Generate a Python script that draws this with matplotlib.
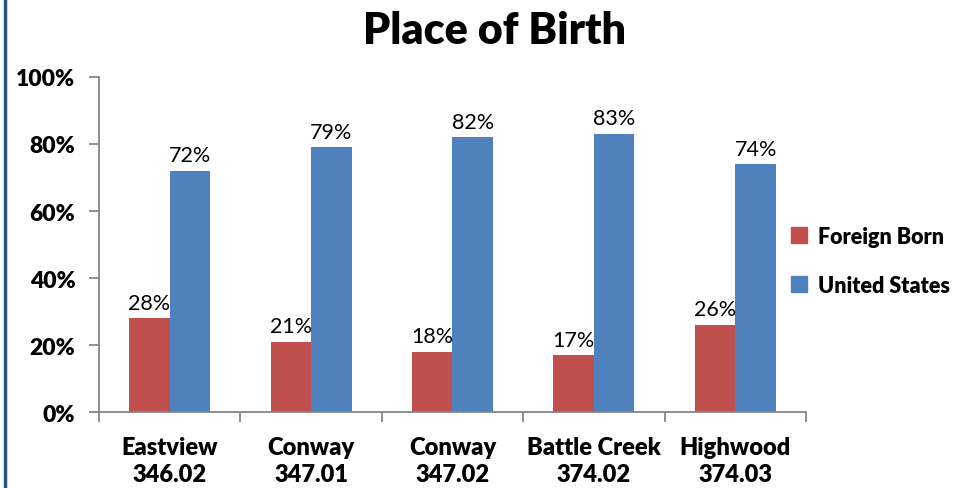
import matplotlib
matplotlib.use('Agg')
import matplotlib.pyplot as plt
from matplotlib.lines import Line2D
from matplotlib.patches import Patch
import numpy as np

plt.rcParams['font.family'] = ['Lato', 'DejaVu Sans']

categories = ['Eastview\n346.02', 'Conway\n347.01', 'Conway\n347.02',
              'Battle Creek\n374.02', 'Highwood\n374.03']
foreign_born = [28, 21, 18, 17, 26]
united_states = [72, 79, 82, 83, 74]
yticks = [0, 20, 40, 60, 80, 100]

red = '#C0504D'
blue = '#4F81BD'
axis_gray = '#868686'

fig = plt.figure(figsize=(9.77, 4.89), dpi=100)
ax = fig.add_axes([0.1013, 0.1554, 0.7237, 0.6851])

x = np.arange(len(categories))
w = 0.287
b1 = ax.bar(x - w / 2, foreign_born, w, color=red, label='Foreign Born')
b2 = ax.bar(x + w / 2, united_states, w, color=blue, label='United States')

for bars, vals in ((b1, foreign_born), (b2, united_states)):
    for rect, v in zip(bars, vals):
        ax.annotate(f'{v}%', (rect.get_x() + rect.get_width() / 2, rect.get_height()),
                    xytext=(0, 4), textcoords='offset points',
                    ha='center', va='bottom', fontsize=15.5)

ax.set_xlim(-0.5, len(categories) - 0.5)
ax.set_ylim(0, 100)
ax.set_yticks(yticks)
ax.set_yticklabels([f'{t}%' for t in yticks], fontsize=16.5, fontweight='heavy')
ax.set_xticks(x)
ax.set_xticklabels(categories, fontsize=17, fontweight='heavy', linespacing=1.32)
ax.set_xticks(np.arange(len(categories) + 1) - 0.5, minor=True)
ax.tick_params(axis='x', which='major', length=0, pad=17)
ax.tick_params(axis='x', which='minor', length=7, color=axis_gray, width=1.3, direction='out')
ax.tick_params(axis='y', length=7, color=axis_gray, width=1.3, direction='out', pad=10)

for s in ('top', 'right'):
    ax.spines[s].set_visible(False)
for s in ('left', 'bottom'):
    ax.spines[s].set_color(axis_gray)
    ax.spines[s].set_linewidth(1.3)

fig.text(0.506, 0.937, 'Place of Birth', ha='center', va='center',
         fontsize=31, fontweight='heavy')

handles = [Patch(color=red), Patch(color=blue)]
leg = fig.legend(handles, ['Foreign Born', 'United States'],
                 loc='center left', bbox_to_anchor=(0.79, 0.465),
                 frameon=False, handlelength=0.75, handleheight=0.75,
                 handletextpad=0.5, labelspacing=1.3,
                 prop={'size': 15.5, 'weight': 'heavy'})

fig.add_artist(Line2D([5 / 977, 5 / 977], [0, 1], color='#2B5189', linewidth=2.5,
                      transform=fig.transFigure))

fig.savefig('out.png', dpi=100)
